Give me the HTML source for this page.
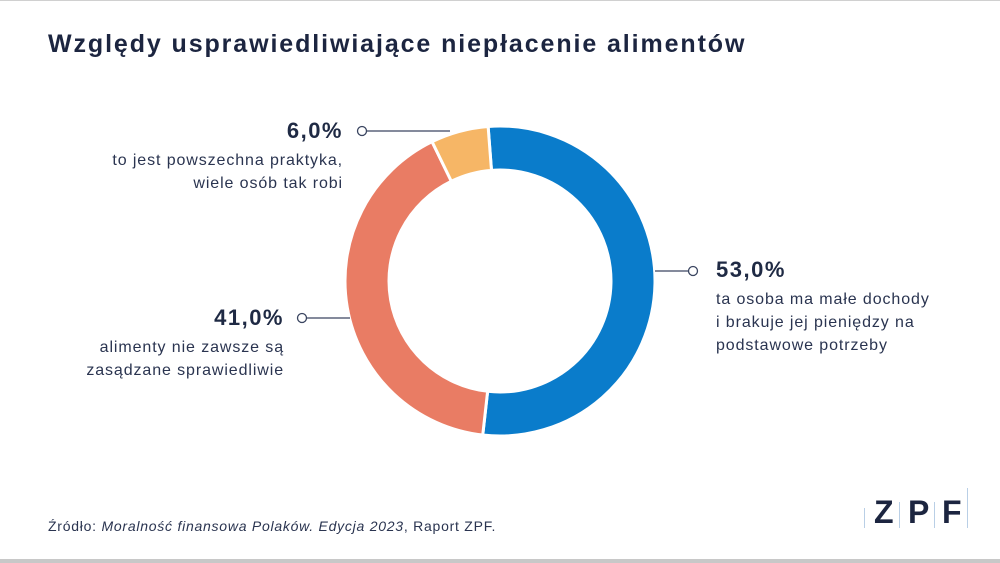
<!DOCTYPE html>
<html><head><meta charset="utf-8"><style>
body{margin:0;width:1000px;height:563px;background:#fff;font-family:"Liberation Sans",sans-serif;overflow:hidden;position:relative;color:#1f2a44}
.t{position:absolute}
.v{font-size:22px;font-weight:bold;letter-spacing:1.5px}
.d{font-size:16px;line-height:23px;color:#2a3450;letter-spacing:0.9px}
</style></head><body>
<div class="t" style="left:0;top:0;width:1000px;height:1px;background:#d0d0d0"></div>
<div class="t" style="left:48px;top:30px;font-size:25px;font-weight:bold;color:#1c2540;letter-spacing:1.9px">Względy usprawiedliwiające niepłacenie alimentów</div>
<svg id="c" width="1000" height="563" style="position:absolute;left:0;top:0"></svg>
<div class="t v" style="left:716px;top:257px">53,0%</div>
<div class="t d" style="left:716px;top:288px">ta osoba ma małe dochody<br>i brakuje jej pieniędzy na<br>podstawowe potrzeby</div>
<div class="t v" style="right:657px;top:118px;text-align:right">6,0%</div>
<div class="t d" style="right:657px;top:149px;text-align:right">to jest powszechna praktyka,<br>wiele osób tak robi</div>
<div class="t v" style="right:716px;top:305px;text-align:right">41,0%</div>
<div class="t d" style="right:716px;top:336px;text-align:right">alimenty nie zawsze są<br>zasądzane sprawiedliwie</div>
<div class="t" style="left:48px;top:518px;font-size:14px;color:#2a3450;letter-spacing:0.75px">Źródło: <i>Moralność finansowa Polaków. Edycja 2023</i>, Raport ZPF.</div>
<div class="t" style="left:864px;top:494px;font-size:32px;font-weight:bold;color:#1c2540;letter-spacing:2px">
<span style="position:absolute;left:0;top:14px;width:1px;height:20px;background:#b9cfe6"></span>
<span style="position:absolute;left:10px;top:0">Z</span>
<span style="position:absolute;left:35px;top:8px;width:1px;height:26px;background:#b9cfe6"></span>
<span style="position:absolute;left:44px;top:0">P</span>
<span style="position:absolute;left:70px;top:8px;width:1px;height:26px;background:#b9cfe6"></span>
<span style="position:absolute;left:78px;top:0">F</span>
<span style="position:absolute;left:103px;top:-6px;width:1px;height:40px;background:#b9cfe6"></span>
</div>
<div class="t" style="left:0;top:559px;width:1000px;height:4px;background:#c8c8c8"></div>
<script>
const categories=["ta osoba ma małe dochody","alimenty nie zawsze są zasądzane sprawiedliwie","to jest powszechna praktyka"];
const values=[53,41,6];
const colors=["#0a7ccb","#e97c64","#f6b666"];
const svg=document.getElementById('c');
const NS="http://www.w3.org/2000/svg";
const cx=500,cy=281,R=155,r=111,start=-4.4;
const total=values.reduce((a,b)=>a+b,0);
function pt(a,rad){const t=(a-90)*Math.PI/180;return [cx+rad*Math.cos(t),cy+rad*Math.sin(t)];}
let a=start;
values.forEach((v,i)=>{
 const a2=a+v/total*360, large=(a2-a)>180?1:0;
 const p1=pt(a,R),p2=pt(a2,R),p3=pt(a2,r),p4=pt(a,r);
 const p=document.createElementNS(NS,'path');
 p.setAttribute('d',`M${p1}A${R},${R} 0 ${large} 1 ${p2}L${p3}A${r},${r} 0 ${large} 0 ${p4}Z`);
 p.setAttribute('fill',colors[i]);p.setAttribute('stroke','#fff');p.setAttribute('stroke-width','3');
 
 
 svg.appendChild(p);a=a2;
});
const leaders=[[655,271,693,271,693],[350,318,302,318,302],[450,131,362,131,362]];
leaders.forEach((l,i)=>{
 const ln=document.createElementNS(NS,'line');
 ln.setAttribute('x1',l[0]);ln.setAttribute('y1',l[1]);ln.setAttribute('x2',l[2]);ln.setAttribute('y2',l[3]);
 ln.setAttribute('stroke','#3a4560');ln.setAttribute('stroke-width','1.3');
 
 
 svg.appendChild(ln);
 const c=document.createElementNS(NS,'circle');
 c.setAttribute('cx',l[4]);c.setAttribute('cy',l[1]);c.setAttribute('r',4.5);
 c.setAttribute('fill','#fff');c.setAttribute('stroke','#3a4560');c.setAttribute('stroke-width','1.3');
 
 
 svg.appendChild(c);
});
</script>
</body></html>
